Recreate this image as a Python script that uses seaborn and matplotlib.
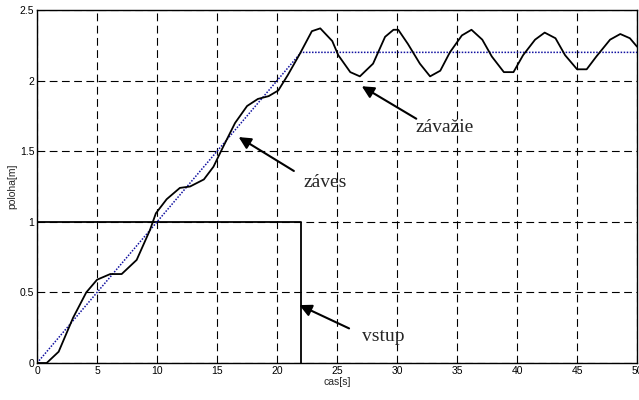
import pandas as pd
import numpy as np
import seaborn as sns
import matplotlib.pyplot as plt

# load (zavazie) position
t_load = [0, 0.8, 1.8, 3.0, 4.1, 5.0, 6.1, 7.05, 8.3, 9.4, 9.9, 10.8, 11.9, 12.75, 13.9,
          14.7, 15.5, 16.5, 17.5, 18.4, 19.3, 20.1, 20.9, 21.9, 22.9, 23.6, 24.6, 25.1,
          26.1, 26.9, 28.0, 29.0, 29.7, 30.1, 30.9, 31.9, 32.75, 33.6, 34.4, 35.4, 36.2,
          37.1, 37.9, 38.9, 39.7, 40.5, 41.5, 42.3, 43.2, 44.0, 45.0, 45.8, 46.6, 47.75,
          48.6, 49.4, 50.0]
y_load = [0, 0.0, 0.08, 0.32, 0.50, 0.59, 0.63, 0.63, 0.73, 0.94, 1.06, 1.16, 1.24, 1.25, 1.30,
          1.39, 1.53, 1.70, 1.82, 1.87, 1.89, 1.93, 2.04, 2.19, 2.35, 2.37, 2.28, 2.18,
          2.06, 2.03, 2.12, 2.31, 2.36, 2.36, 2.26, 2.12, 2.03, 2.07, 2.20, 2.32, 2.36,
          2.29, 2.17, 2.06, 2.06, 2.18, 2.29, 2.34, 2.30, 2.18, 2.08, 2.08, 2.17, 2.29,
          2.33, 2.30, 2.24]

# trolley (zaves) - ramp then hold
t_trolley = [0, 22, 50]
y_trolley = [0, 2.2, 2.2]

# input (vstup)
t_input = [0, 22, 22]
y_input = [1, 1, 0]

load = pd.DataFrame({'t': t_load, 'y': y_load})
trolley = pd.DataFrame({'t': t_trolley, 'y': y_trolley})
inp = pd.DataFrame({'t': t_input, 'y': y_input})

sns.set_style('white')
plt.rcParams['font.family'] = ['Liberation Sans', 'DejaVu Sans']

fig = plt.figure(figsize=(6.39, 4.0), dpi=100)
ax = fig.add_axes([0.058, 0.0925, 0.939, 0.8825])

sns.lineplot(data=inp, x='t', y='y', sort=False, estimator=None, color='black',
             linewidth=1.3, ax=ax)
sns.lineplot(data=trolley, x='t', y='y', sort=False, estimator=None, color='#1010a0',
             linewidth=1.1, linestyle=(0, (1, 1)), ax=ax)
sns.lineplot(data=load, x='t', y='y', sort=False, estimator=None, color='black',
             linewidth=1.3, ax=ax)

ax.set_xlim(0, 50)
ax.set_ylim(0, 2.5)
ax.set_xticks(np.arange(0, 51, 5))
ax.set_yticks([0, 0.5, 1, 1.5, 2, 2.5])
ax.set_yticklabels(['0', '0.5', '1', '1.5', '2', '2.5'])
ax.grid(True, color='black', linestyle=(0, (7, 4)), linewidth=0.8)
ax.tick_params(direction='in', length=3, labelsize=7.5, pad=2, colors='black')
for s in ax.spines.values():
    s.set_color('black')
    s.set_linewidth(1.0)
ax.set_xlabel('cas[s]', fontsize=7.5, labelpad=1)
ax.set_ylabel('poloha[m]', fontsize=7.5, labelpad=2)

arrow = dict(arrowstyle='-|>', color='black', lw=1.5, mutation_scale=18, shrinkA=0, shrinkB=0)
serif = ['Liberation Serif', 'DejaVu Serif']
ax.annotate('', xy=(27.06, 1.96), xytext=(31.6, 1.73), arrowprops=arrow)
ax.text(31.5, 1.67, 'závažie', fontsize=14, family=serif, va='center')
ax.annotate('', xy=(16.8, 1.60), xytext=(21.4, 1.36), arrowprops=arrow)
ax.text(22.2, 1.28, 'záves', fontsize=14, family=serif, va='center')
ax.annotate('', xy=(21.86, 0.41), xytext=(26.0, 0.245), arrowprops=arrow)
ax.text(27.1, 0.19, 'vstup', fontsize=14, family=serif, va='center')

fig.savefig('out.png', dpi=100)
